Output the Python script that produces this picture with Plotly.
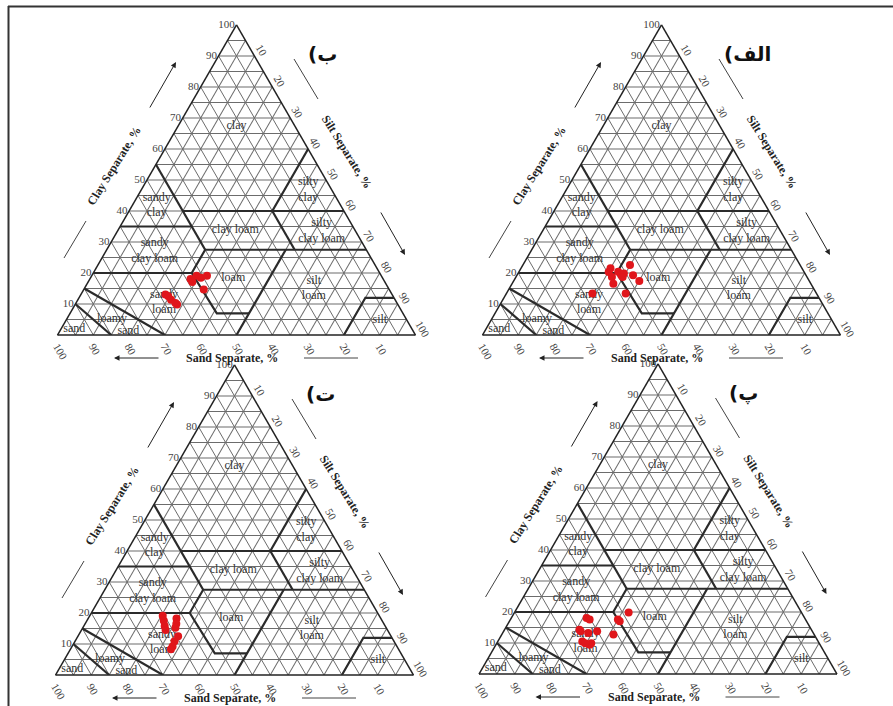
import plotly.graph_objects as go

W, H = 893, 706

# ---------------- data ----------------
PANEL_LABELS = ["الف)", "ب)", "پ)", "ت)"]

# panel الف (top right)
CLAY_ALEF = [21.5, 20.4, 19.3, 19.8, 18.7, 16.5, 22.6, 19.3, 17.4, 13.4, 13.4, 18.7, 20.3]
SAND_ALEF = [53.5, 51.9, 51.6, 50.6, 54.5, 55.2, 47.5, 48.3, 47.5, 53.3, 62.6, 51.5, 54.6]
# panel ب (top left)
CLAY_BE = [18.1, 19.1, 18.5, 19.1, 14.7, 13.1, 12.5, 11.4, 9.8, 10.3, 17.1]
SAND_BE = [53.8, 51.6, 50.7, 48.7, 51.8, 63.3, 62.8, 62.6, 61.7, 61.9, 53.8]
# panel پ (bottom right)
CLAY_PE = [18.1, 17.6, 14.3, 13.8, 13.2, 13.8, 10.5, 9.9, 9.4, 9.9, 12.7, 17.0, 19.8, 17.6]
SAND_PE = [60.9, 60.3, 64.8, 64.7, 62.9, 60.1, 65.9, 63.7, 64.4, 65.4, 56.1, 52.2, 48.3, 52.4]
# panel ت (bottom left)
CLAY_TE = [19.1, 17.5, 15.8, 14.5, 18.2, 16.5, 15.2, 12.5, 10.9, 9.2, 8.3]
SAND_TE = [60.5, 61.0, 61.6, 62.0, 57.1, 58.0, 58.9, 59.5, 61.3, 62.7, 63.6]

GRID_TICKS = list(range(5, 101, 5))
GRID_TICKTEXT = [str(v) if v % 10 == 0 else "" for v in GRID_TICKS]

# USDA texture class boundaries, points as (clay, sand, silt)
BOUNDARIES = [
    [(10, 90, 0), (0, 85, 15)],
    [(15, 85, 0), (0, 70, 30)],
    [(20, 80, 0), (20, 52.5, 27.5), (27.5, 45, 27.5), (27.5, 0, 72.5)],
    [(20, 52.5, 27.5), (7, 52, 41), (7, 43, 50)],
    [(0, 50, 50), (27.5, 22.5, 50)],
    [(0, 20, 80), (12, 8, 80), (12, 0, 88)],
    [(35, 65, 0), (35, 45, 20)],
    [(55, 45, 0), (27.5, 45, 27.5)],
    [(40, 45, 15), (40, 0, 60)],
    [(40, 20, 40), (60, 0, 40)],
    [(40, 20, 40), (27.5, 20, 52.5)],
]

CLASS_NAMES = ["clay", "silty<br>clay", "sandy<br>clay", "clay loam", "silty<br>clay loam",
               "sandy<br>clay loam", "loam", "silt<br>loam", "sandy<br>loam", "loamy",
               "sand", "sand", "silt"]
CLASS_CLAY = [67.4, 46.7, 41.8, 33.9, 33.6, 27.1, 18.4, 15.0, 10.5, 5.3, 1.2, 2.0, 4.9]
CLASS_SAND = [16.3, 6.6, 51.4, 33.4, 9.4, 59.3, 41.7, 20.9, 65.0, 82.1, 79.6, 94.3, 7.5]
CLASS_SILT = [16.3, 46.7, 6.8, 32.7, 57.0, 13.6, 39.9, 64.1, 24.5, 12.6, 19.2, 3.7, 87.6]

# ---------------- layout geometry ----------------
TW = 358.0
TH = TW * 3 ** 0.5 / 2
# (subplot, label, clay, sand, left vertex x px, base y px)
PANELS = [
    ("ternary", PANEL_LABELS[0], CLAY_ALEF, SAND_ALEF, 482.5, 335),
    ("ternary2", PANEL_LABELS[1], CLAY_BE, SAND_BE, 57.5, 335),
    ("ternary3", PANEL_LABELS[2], CLAY_PE, SAND_PE, 479.0, 674),
    ("ternary4", PANEL_LABELS[3], CLAY_TE, SAND_TE, 55.5, 675),
]

SERIF = "Liberation Serif"
fig = go.Figure()
layout = dict(
    width=W, height=H, margin=dict(l=0, r=0, t=0, b=0),
    paper_bgcolor="white", plot_bgcolor="white", showlegend=False,
    annotations=[], shapes=[],
)


def px(x, y):
    return x / W, 1 - y / H


def axis(angle):
    return dict(
        min=0, tickvals=GRID_TICKS, ticktext=GRID_TICKTEXT, ticks="",
        showgrid=True, gridcolor="#6c6c6c", gridwidth=0.9,
        linecolor="#222", linewidth=1.5, tickangle=angle,
        tickfont=dict(family=SERIF, size=11, color="#444"),
        title=dict(text=""), layer="below traces",
    )


for sub, label, clay, sand, x0, base in PANELS:
    dom_x = [x0 / W, (x0 + TW) / W]
    dom_y = [1 - base / H, 1 - (base - TH) / H]
    layout[sub] = dict(
        domain=dict(x=dom_x, y=dom_y), sum=100, bgcolor="white",
        aaxis=axis(0), baxis=axis(60), caxis=axis(60),
    )
    # class boundaries
    a, b, c = [], [], []
    for seg in BOUNDARIES:
        for (cl, sa, si) in seg:
            a.append(cl); b.append(sa); c.append(si)
        a.append(None); b.append(None); c.append(None)
    fig.add_trace(go.Scatterternary(a=a, b=b, c=c, mode="lines", subplot=sub,
                                    line=dict(color="#2b2b2b", width=2.2),
                                    hoverinfo="skip", connectgaps=False))
    # class names
    fig.add_trace(go.Scatterternary(a=CLASS_CLAY, b=CLASS_SAND, c=CLASS_SILT, mode="text",
                                    text=CLASS_NAMES, subplot=sub,
                                    textfont=dict(family=SERIF, size=12, color="#333"),
                                    hoverinfo="skip"))
    # samples
    silt = [round(100 - cl - sa, 1) for cl, sa in zip(clay, sand)]
    fig.add_trace(go.Scatterternary(a=clay, b=sand, c=silt, mode="markers", subplot=sub,
                                    marker=dict(color="#e0161b", size=8, line=dict(width=0))))

    dx, dy = x0 - 57.5, base - 335

    def P(x, y):
        return px(x + dx, y + dy)

    anns = layout["annotations"]
    shp = layout["shapes"]
    common = dict(xref="paper", yref="paper", showarrow=False,
                  xanchor="center", yanchor="middle")
    xx, yy = P(114, 166)
    anns.append(dict(x=xx, y=yy, text="<b>Clay Separate, %</b>", textangle=-58,
                     font=dict(family=SERIF, size=12, color="#222"), **common))
    xx, yy = P(347, 152)
    anns.append(dict(x=xx, y=yy, text="<b>Silt Separate, %</b>", textangle=58,
                     font=dict(family=SERIF, size=12, color="#222"), **common))
    xx, yy = P(232, 358)
    anns.append(dict(x=xx, y=yy, text="<b>Sand Separate, %</b>",
                     font=dict(family=SERIF, size=12, color="#222"), **common))
    xx, yy = P(322, 54)
    anns.append(dict(x=xx, y=yy, text="<b>" + label + "\u200f</b>",
                     font=dict(family="DejaVu Sans", size=20, color="#111"), **common))
    # arrows (tip, tail)
    for tip, tail in [((176, 62), (149, 109)), ((405, 255), (380, 211)), ((114, 358), (160, 358))]:
        tx, ty = P(*tip)
        anns.append(dict(x=tx, y=ty, xref="paper", yref="paper", text="", showarrow=True,
                         ax=tail[0] - tip[0], ay=tail[1] - tip[1], arrowhead=2, arrowsize=1.1,
                         arrowwidth=1, arrowcolor="#222", standoff=0))
    for p1, p2 in [((64, 258), (86, 221)), ((294, 59), (318, 99)), ((304, 358), (358, 358))]:
        x1, y1 = P(*p1)
        x2, y2 = P(*p2)
        shp.append(dict(type="line", xref="paper", yref="paper", x0=x1, y0=y1, x1=x2, y1=y2,
                        line=dict(color="#444", width=1)))

# outer frame (left and top edges)
layout["shapes"].append(dict(type="line", xref="paper", yref="paper",
                             x0=8.5 / W, y0=1 - 6 / H, x1=8.5 / W, y1=0,
                             line=dict(color="#333", width=2)))
layout["shapes"].append(dict(type="line", xref="paper", yref="paper",
                             x0=8 / W, y0=1 - 6.5 / H, x1=1, y1=1 - 6.5 / H,
                             line=dict(color="#333", width=2)))

fig.update_layout(**layout)
fig.write_html("out.html", config={"displayModeBar": False},
               post_script="document.body.style.margin='0';document.body.style.overflow='hidden';")
